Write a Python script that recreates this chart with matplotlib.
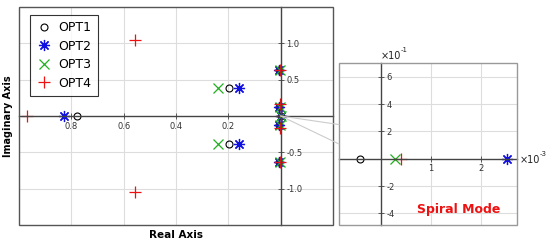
import matplotlib
matplotlib.use("Agg")
import matplotlib.pyplot as plt
from matplotlib.patches import Rectangle, ConnectionPatch

# pole locations (real, imag)
opt1_re = [-0.78, -0.198, -0.198, -0.005, -0.005, -0.005, -0.005, -0.42e-3]
opt1_im = [0.0, 0.38, -0.38, 0.63, -0.63, 0.12, -0.12, 0.0]
opt2_re = [-0.827, -0.16, -0.16, -0.005, -0.005, -0.005, -0.005, 2.52e-3]
opt2_im = [0.0, 0.38, -0.38, 0.63, -0.63, 0.12, -0.12, 0.0]
opt3_re = [-0.24, -0.24, -0.003, -0.003, -0.003, -0.003, 0.28e-3]
opt3_im = [0.38, -0.38, 0.63, -0.63, 0.12, -0.12, 0.0]
opt4_re = [-0.97, -0.556, -0.556, -0.003, -0.003, -0.003, -0.003, 0.40e-3]
opt4_im = [0.0, 1.04, -1.04, 0.63, -0.63, 0.16, -0.16, 0.0]

labels = ["OPT1", "OPT2", "OPT3", "OPT4"]
xticks_main = [-0.8, -0.6, -0.4, -0.2]
xticklabels_main = ["0.8", "0.6", "0.4", "0.2"]
yticks_main = [1.0, 0.5, -0.5, -1.0]
yticklabels_main = ["1.0", "0.5", "-0.5", "-1.0"]
xticks_zoom = [1e-3, 2e-3]
xticklabels_zoom = ["1", "2"]
yticks_zoom = [0.6, 0.4, 0.2, -0.2, -0.4]
yticklabels_zoom = ["6", "4", "2", "-2", "-4"]

styles = [
    dict(marker="o", mfc="none", mec="black", ms=5, mew=0.8),
    dict(marker=(8, 2, 0), mfc="none", mec="#1010e0", ms=8, mew=0.9),
    dict(marker="x", mfc="none", mec="#20b020", ms=7, mew=0.9),
    dict(marker="+", mfc="none", mec="#ee1111", ms=9, mew=0.9),
]
series = [(opt1_re, opt1_im), (opt2_re, opt2_im), (opt3_re, opt3_im), (opt4_re, opt4_im)]

W, H = 550, 246
fig = plt.figure(figsize=(5.5, 2.46), dpi=100)


def px_axes(x0, y0, x1, y1):
    return fig.add_axes([x0 / W, 1 - y1 / H, (x1 - x0) / W, (y1 - y0) / H])


def origin_axes(ax, frame_color):
    for s in ax.spines.values():
        s.set_visible(False)
    ax.spines["right"].set_position(("data", 0))
    ax.spines["bottom"].set_position(("data", 0))
    ax.spines["right"].set_visible(True)
    ax.spines["bottom"].set_visible(True)
    ax.spines["right"].set_color("#444444")
    ax.spines["bottom"].set_color("#444444")
    ax.spines["right"].set_linewidth(1.0)
    ax.spines["bottom"].set_linewidth(1.0)
    ax.yaxis.tick_right()
    ax.tick_params(direction="inout", length=4, width=0.6, colors="#444444",
                   labelsize=6, labelcolor="#333333", pad=2)
    ax.add_patch(Rectangle((0, 0), 1, 1, transform=ax.transAxes, fill=False,
                           ec=frame_color, lw=1.0, clip_on=False, zorder=5))
    ax.grid(True, color="#dddddd", lw=0.8)
    ax.set_axisbelow(True)


def exponent_label(x, y, exp):
    fig.text(x / W, 1 - y / H, "×10", fontsize=7, va="center", ha="left",
             color="#222222")
    fig.text((x + 20) / W, 1 - (y - 6) / H, exp, fontsize=5, va="center",
             ha="left", color="#222222")


# main root locus
ax = px_axes(19, 7, 333, 225)
for (re, im), lab, st in zip(series, labels, styles):
    ax.plot(re, im, ls="none", label=lab, **st)
ax.set_xlim(-1.0, 0.2)
ax.set_ylim(-1.5, 1.5)
origin_axes(ax, "#555555")
ax.set_xticks(xticks_main)
ax.set_xticklabels(xticklabels_main)
ax.set_yticks(yticks_main)
ax.set_yticklabels(yticklabels_main)
ax.set_xticks([-1.0, 0.0], minor=True)
ax.grid(True, which="minor", axis="x", color="#dddddd", lw=0.8)
ax.tick_params(which="minor", length=0)
ax.set_xlabel("Real Axis", fontsize=7.5, fontweight="bold")
ax.set_ylabel("Imaginary Axis", fontsize=7, fontweight="bold")
ax.xaxis.set_label_coords(0.5, -0.025)
ax.yaxis.set_label_coords(-0.02, 0.5)
leg = ax.legend(loc="upper left", bbox_to_anchor=(0.035, 0.965), fontsize=9,
                frameon=True, fancybox=False, edgecolor="black",
                borderpad=0.5, labelspacing=0.45, handletextpad=0.5,
                handlelength=1.3, borderaxespad=0)
leg.get_frame().set_linewidth(0.8)

# zoom on spiral mode
axz = px_axes(339, 63, 517, 225)
for (re, im), st in zip(series, styles):
    axz.plot(re, im, ls="none", **st)
axz.set_xlim(-0.84e-3, 2.72e-3)
axz.set_ylim(-0.485, 0.70)
origin_axes(axz, "#999999")
axz.set_xticks(xticks_zoom)
axz.set_xticklabels(xticklabels_zoom)
axz.set_yticks(yticks_zoom)
axz.set_yticklabels(yticklabels_zoom)
exponent_label(520, 160, "-3")
exponent_label(381, 56, "-1")
axz.text(1.55e-3, -0.37, "Spiral Mode", color="#ee1111", fontsize=9,
         fontweight="bold", ha="center", va="center")

# connector lines from the origin of the main plot to the zoom box
for yf in [0.62, 0.50]:
    con = ConnectionPatch(xyA=(0, 0), coordsA=ax.transData,
                          xyB=(0, yf), coordsB=axz.transAxes,
                          color="#cccccc", lw=0.8)
    fig.add_artist(con)

fig.savefig("out.png", dpi=100)
